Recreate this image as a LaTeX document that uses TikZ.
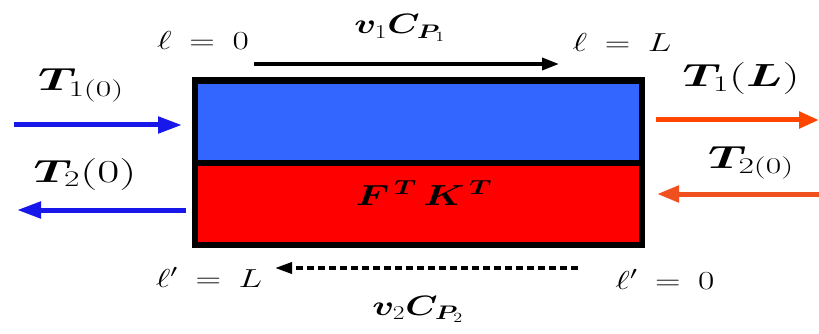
\RequirePackage{fix-cm}
\documentclass[tikz,border=0pt]{standalone}
\usepackage{amsmath,bm}
\usetikzlibrary{arrows.meta}
\definecolor{blueA}{RGB}{51,102,255}
\definecolor{redA}{RGB}{255,0,0}
\definecolor{arrblue}{RGB}{24,24,235}
\definecolor{arrorange}{RGB}{255,69,0}
\definecolor{arrorange2}{RGB}{240,80,30}
\begin{document}
\begin{tikzpicture}[x=1pt,y=-1pt,
  half/.style={draw=black,line width=6.5pt,minimum width=447pt,inner sep=0pt,outer sep=0pt},
  lblbase/.style={inner sep=0pt,anchor=base,transform shape},
  poslbl/.style={lblbase,font=\fontsize{26}{31}\selectfont,xscale=1.36},
  vellbl/.style={lblbase,font=\fontsize{28}{33}\selectfont,xscale=1.3},
  templbl/.style={lblbase,font=\fontsize{32}{38}\selectfont,xscale=1.5},
  proplbl/.style={lblbase,font=\fontsize{29}{34}\selectfont,xscale=1.37},
  flowblue/.style={draw=arrblue,line width=5pt,-{Triangle[length=24pt,width=16pt]}},
  flowred/.style={draw=arrorange,line width=5pt,-{Triangle[length=20pt,width=16pt]}},
  flowred2/.style={draw=arrorange2,line width=5pt,-{Triangle[length=22pt,width=16pt]}},
  dirarrow/.style={draw=black,line width=3.5pt,-{Triangle[length=17pt,width=12pt]}},
  dirdash/.style={draw=black,line width=3.5pt,dash pattern=on 7pt off 4pt,-{Triangle[length=17pt,width=11pt]}}]
\useasboundingbox (0,0) rectangle (819,334);
% box halves
\node[half,fill=blueA,minimum height=82.5pt] (upper) at (418.5,121.75) {};
\node[half,fill=redA,minimum height=82pt] (lower) at (418.5,204) {};
% labels
\node[poslbl] (l0) at (203,50) {$\ell\:=\:0$};
\node[poslbl] (lL) at (622,52) {$\ell\:=\:L$};
\node[poslbl] (lpL) at (209,287) {$\ell'\:=\:L$};
\node[poslbl] (lp0) at (665,289) {$\ell'\:=\:0$};
\node[vellbl] (v1) at (400,34) {$\bm{v}_1\bm{C}_{\bm{P}_1}$};
\node[vellbl] (v2) at (418,315) {$\bm{v}_2\bm{C}_{\bm{P}_2}$};
\node[templbl] (T10) at (81,91) {$\bm{T}_{1(0)}$};
\node[templbl] (T20) at (85,182) {$\bm{T}_2(0)$};
\node[templbl] (T1L) at (741,87) {$\bm{T}_1(\bm{L})$};
\node[templbl] (T2o) at (751,168) {$\bm{T}_{2(0)}$};
\node[proplbl] (FK) at (424,205) {$\bm{F}^{\,\bm{T}}\,\bm{K}^{\,\bm{T}}$};
% arrow endpoints
\coordinate (a1s) at (14,125);
\coordinate (a1e) at (182,125);
\coordinate (a2s) at (186,210);
\coordinate (a2e) at (17,210);
\coordinate (a3s) at (656,120);
\coordinate (a3e) at (819,120);
\coordinate (a4s) at (819,194);
\coordinate (a4e) at (657,194);
\coordinate (ts) at (254,64);
\coordinate (te) at (559,64);
\coordinate (bs) at (578,268);
\coordinate (be) at (275,268);
\draw[flowblue] (a1s) -- (a1e);
\draw[flowblue] (a2s) -- (a2e);
\draw[flowred] (a3s) -- (a3e);
\draw[flowred2] (a4s) -- (a4e);
\draw[dirarrow] (ts) -- (te);
\draw[dirdash] (bs) -- (be);
\end{tikzpicture}
\end{document}
